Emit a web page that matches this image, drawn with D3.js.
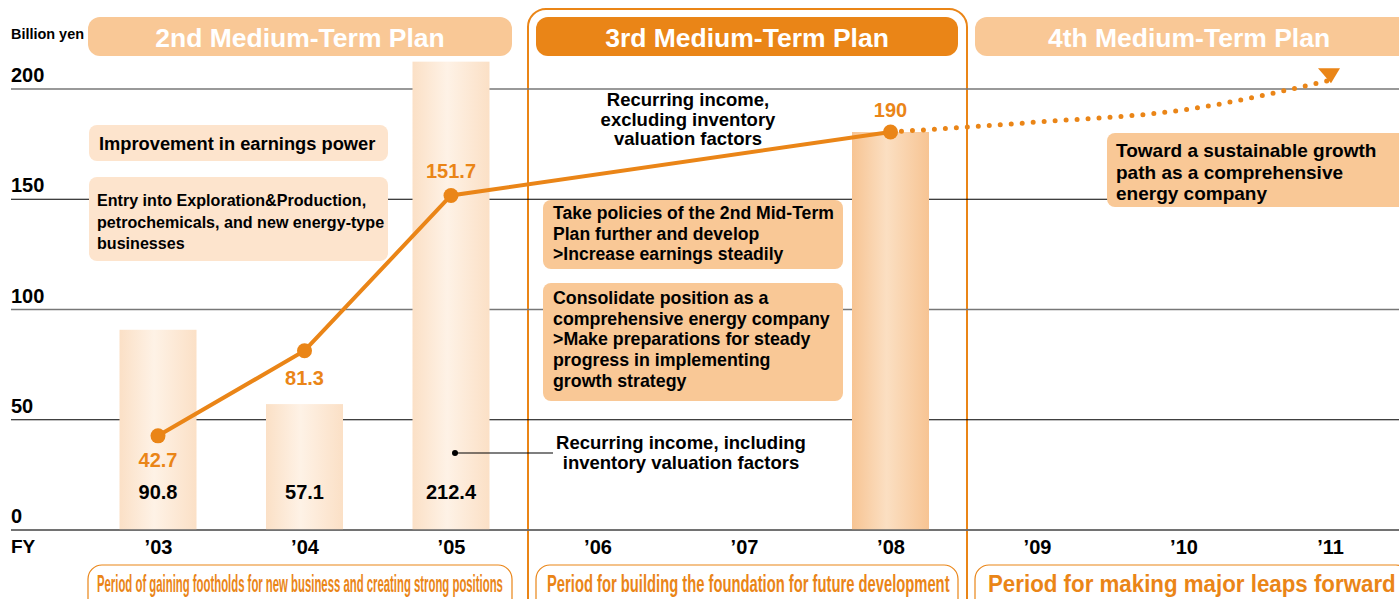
<!DOCTYPE html>
<html>
<head>
<meta charset="utf-8">
<script src="https://cdn.jsdelivr.net/npm/d3@7"></script>
<style>
  body { margin: 0; background: #fff; }
  svg { display: block; font-family: "Liberation Sans", Arial, sans-serif; }
  .bold { font-weight: bold; }
</style>
</head>
<body>
<div id="chart"></div>
<script>
// fiscal years on the x axis
const years = ["’03", "’04", "’05", "’06", "’07", "’08", "’09", "’10", "’11"];
const yTicks = [0, 50, 100, 150, 200];

// bars: recurring income incl. inventory valuation factors
const barYears = ["’03", "’04", "’05", "’08"];
const barValues = [90.8, 57.1, 212.4, 180.5];
const barLabels = ["90.8", "57.1", "212.4", ""];

// line: recurring income excl. inventory valuation factors
// ('08 target is labelled 190 but drawn at bar height in the original)
const lineYears = ["’03", "’04", "’05", "’08"];
const lineValues = [42.7, 81.3, 151.7, 180.5];
const lineLabels = ["42.7", "81.3", "151.7", "190"];

// dotted projection after '08
const projYears = ["’08", "’09", "’10", "’11"];
const projValues = [180.5, 185, 190.5, 204];

const plans = ["2nd Medium-Term Plan", "3rd Medium-Term Plan", "4th Medium-Term Plan"];
const periods = [
  "Period of gaining footholds for new business and creating strong positions",
  "Period for building the foundation for future development",
  "Period for making major leaps forward"
];

const width = 1399, height = 599;
const orange = "#ea8517", peach = "#f9c896", pale = "#fde4cd";

const svg = d3.select("#chart").append("svg")
  .attr("width", width)
  .attr("height", height);

const x = d3.scalePoint().domain(years).range([158, 1330]);
const y = d3.scaleLinear().domain([0, 200]).range([530, 89]);

const defs = svg.append("defs");
function barGrad(id, edge, mid) {
  const g = defs.append("linearGradient").attr("id", id)
    .attr("x1", "0%").attr("x2", "100%");
  g.append("stop").attr("offset", "0%").attr("stop-color", edge);
  g.append("stop").attr("offset", "45%").attr("stop-color", mid);
  g.append("stop").attr("offset", "100%").attr("stop-color", edge);
}
barGrad("gLight", "#fbe0c6", "#fef2e6");
barGrad("gDark", "#f7c493", "#fbdfc2");

// squeeze a text horizontally so it fills w px
function fitX(sel, x0, y0, w) {
  sel.each(function() {
    const nat = this.getComputedTextLength();
    d3.select(this).attr("transform", `translate(${x0},${y0}) scale(${w / nat},1)`);
  });
}

// plan header boxes
const planBands = [[88, 512], [536, 958], [975, 1410]];
svg.selectAll(".plan")
  .data(plans)
  .enter()
  .append("rect")
  .attr("x", (d, i) => planBands[i][0])
  .attr("y", 17)
  .attr("width", (d, i) => planBands[i][1] - planBands[i][0])
  .attr("height", 39)
  .attr("rx", 12)
  .attr("fill", (d, i) => i === 1 ? orange : peach);

svg.selectAll(".plan-label")
  .data(plans)
  .enter()
  .append("text")
  .attr("class", "bold")
  .attr("x", (d, i) => i === 2 ? 1189 : (planBands[i][0] + planBands[i][1]) / 2)
  .attr("y", 47)
  .attr("text-anchor", "middle")
  .attr("fill", "#fff")
  .style("font-size", "26.5px")
  .text(d => d);

// 3rd plan frame
svg.append("rect")
  .attr("x", 528).attr("y", 9)
  .attr("width", 439).attr("height", 620)
  .attr("rx", 18)
  .attr("fill", "none")
  .attr("stroke", orange)
  .attr("stroke-width", 2);

// gridlines
svg.selectAll(".grid")
  .data(yTicks)
  .enter()
  .append("line")
  .attr("x1", 11).attr("x2", width)
  .attr("y1", d => y(d)).attr("y2", d => y(d))
  .attr("stroke", d => d % 100 === 0 ? "#777" : "#000")
  .attr("stroke-width", d => d % 100 === 0 ? 1.6 : 1);

svg.selectAll(".ytick")
  .data(yTicks)
  .enter()
  .append("text")
  .attr("class", "bold")
  .attr("x", 11)
  .attr("y", d => y(d) - 7)
  .style("font-size", "20px")
  .text(d => d);

svg.append("text")
  .attr("class", "bold")
  .attr("x", 11).attr("y", 39)
  .attr("textLength", 73).attr("lengthAdjust", "spacingAndGlyphs")
  .style("font-size", "15px")
  .text("Billion yen");

svg.append("text")
  .attr("class", "bold")
  .attr("x", 11).attr("y", 553)
  .style("font-size", "19px")
  .text("FY");

// bars
const bw = 77;
svg.selectAll(".bar")
  .data(barValues)
  .enter()
  .append("rect")
  .attr("x", (d, i) => x(barYears[i]) - bw / 2)
  .attr("y", d => y(d))
  .attr("width", bw)
  .attr("height", d => y(0) - y(d))
  .attr("fill", (d, i) => barYears[i] === "’08" ? "url(#gDark)" : "url(#gLight)");

// redraw the axis line over bars
svg.append("line")
  .attr("x1", 11).attr("x2", width)
  .attr("y1", y(0)).attr("y2", y(0))
  .attr("stroke", "#666").attr("stroke-width", 1.6);

svg.selectAll(".bar-label")
  .data(barLabels)
  .enter()
  .append("text")
  .attr("class", "bold")
  .attr("x", (d, i) => x(barYears[i]))
  .attr("y", 499)
  .attr("text-anchor", "middle")
  .style("font-size", "20px")
  .text(d => d);

// x axis labels
const xAxis = d3.axisBottom(x).tickSize(0).tickPadding(0);
const gx = svg.append("g")
  .attr("transform", `translate(0,${y(0)})`)
  .call(xAxis);
gx.select(".domain").remove();
gx.selectAll("text")
  .attr("y", 24)
  .attr("dy", 0)
  .attr("fill", "#000")
  .style("font-family", "Liberation Sans, Arial, sans-serif")
  .style("font-weight", "bold")
  .style("font-size", "20px");

// text boxes
function textBox(x0, y0, w, h, fill, lines, tx, ty, lh, size) {
  svg.append("rect")
    .attr("x", x0).attr("y", y0)
    .attr("width", w).attr("height", h)
    .attr("rx", 8)
    .attr("fill", fill);
  const t = svg.append("text")
    .attr("class", "bold")
    .attr("x", tx).attr("y", ty)
    .style("font-size", size + "px");
  lines.forEach((l, i) => {
    t.append("tspan").attr("x", tx).attr("y", ty + i * lh).text(l);
  });
}

textBox(89, 125, 299, 36, pale, ["Improvement in earnings power"], 99, 150, 0, 18.3);
textBox(89, 177, 299, 84, pale,
  ["Entry into Exploration&Production,", "petrochemicals, and new energy-type", "businesses"],
  97, 206, 21.5, 16.1);
textBox(543, 200, 300, 69, peach,
  ["Take policies of the 2nd Mid-Term", "Plan further and develop", ">Increase earnings steadily"],
  553, 219, 20.7, 17.6);
textBox(543, 283, 300, 118, peach,
  ["Consolidate position as a", "comprehensive energy company", ">Make preparations for steady",
   "progress in implementing", "growth strategy"],
  553, 304, 20.7, 17.8);
textBox(1107, 133, 310, 74, peach,
  ["Toward a sustainable growth", "path as a comprehensive", "energy company"],
  1116, 157, 21.5, 19);

// series captions
const cap1 = svg.append("text")
  .attr("class", "bold")
  .attr("text-anchor", "middle")
  .style("font-size", "18.5px");
["Recurring income,", "excluding inventory", "valuation factors"].forEach((l, i) => {
  cap1.append("tspan").attr("x", 688).attr("y", 106 + i * 19.5).text(l);
});

const cap2 = svg.append("text")
  .attr("class", "bold")
  .attr("text-anchor", "middle")
  .style("font-size", "18.5px");
["Recurring income, including", "inventory valuation factors"].forEach((l, i) => {
  cap2.append("tspan").attr("x", 681).attr("y", 449 + i * 20).text(l);
});

svg.append("line")
  .attr("x1", 455).attr("x2", 553)
  .attr("y1", 453).attr("y2", 453)
  .attr("stroke", "#000").attr("stroke-width", 1.2);
svg.append("circle")
  .attr("cx", 455).attr("cy", 453).attr("r", 3)
  .attr("fill", "#000");

// projection dotted line
const proj = projYears.map((d, i) => [x(d), y(projValues[i])]);
svg.append("path")
  .datum(proj)
  .attr("d", d3.line().curve(d3.curveMonotoneX))
  .attr("fill", "none")
  .attr("stroke", orange)
  .attr("stroke-width", 5)
  .attr("stroke-linecap", "round")
  .attr("stroke-dasharray", "0 11");

const end = proj[proj.length - 1];
svg.append("path")
  .attr("d", `M${end[0] - 12},${end[1] - 12}L${end[0] + 10},${end[1] - 12}L${end[0] + 1},${end[1] + 3}Z`)
  .attr("fill", orange);

// main line
const pts = lineYears.map((d, i) => [x(d), y(lineValues[i])]);
svg.append("path")
  .datum(pts)
  .attr("d", d3.line())
  .attr("fill", "none")
  .attr("stroke", orange)
  .attr("stroke-width", 4);

svg.selectAll(".dot")
  .data(pts)
  .enter()
  .append("circle")
  .attr("cx", d => d[0])
  .attr("cy", d => d[1])
  .attr("r", 7.5)
  .attr("fill", orange);

const labelDy = [31, 34, -18, -15];
svg.selectAll(".line-label")
  .data(lineLabels)
  .enter()
  .append("text")
  .attr("class", "bold")
  .attr("x", (d, i) => pts[i][0])
  .attr("y", (d, i) => pts[i][1] + labelDy[i])
  .attr("text-anchor", "middle")
  .attr("fill", orange)
  .style("font-size", "20px")
  .text(d => d);

// period captions
svg.selectAll(".period")
  .data(periods)
  .enter()
  .append("rect")
  .attr("x", (d, i) => planBands[i][0])
  .attr("y", 565)
  .attr("width", (d, i) => planBands[i][1] - planBands[i][0])
  .attr("height", 50)
  .attr("rx", 14)
  .attr("fill", "#fff")
  .attr("stroke", orange)
  .attr("stroke-width", 1.2);

const periodX = [[97, 406], [547, 403], [988, 408]];
svg.selectAll(".period-label")
  .data(periods)
  .enter()
  .append("text")
  .attr("class", "bold")
  .attr("fill", orange)
  .style("font-size", "24px")
  .text(d => d)
  .each(function(d, i) {
    fitX(d3.select(this), periodX[i][0], 592, periodX[i][1]);
  });
</script>
</body>
</html>
